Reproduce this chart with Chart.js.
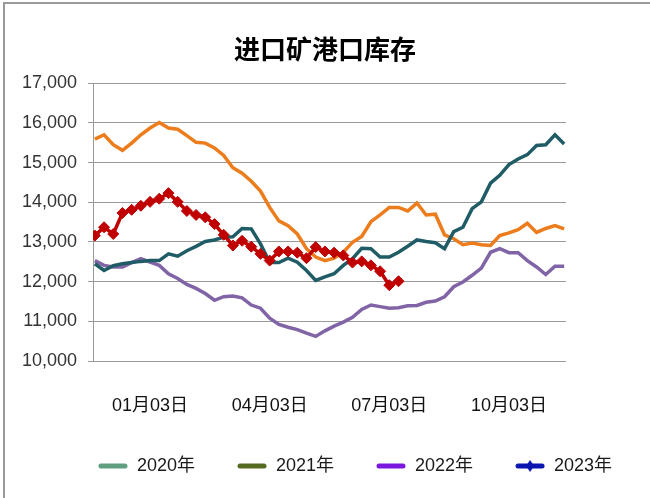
<html lang="zh">
<head>
  <meta charset="UTF-8" />
  <title>进口矿港口库存</title>
  <script src="https://cdn.jsdelivr.net/npm/chart.js"></script>
  <style>
    body { margin: 0; background: #fff; }
    #frame { position: absolute; left: 3px; top: 2px; width: 660px; height: 510px;
             border-top: 2px solid #9a9a9a; border-left: 2px solid #9a9a9a; }
    #c { position: absolute; left: 0; top: 0; }
  </style>
</head>
<body>
  <div id="frame"></div>
  <canvas id="c" width="650" height="498"></canvas>

  <script>
    // weekly port stock, index 0 = first week of the year
    const years = ['2020年', '2021年', '2022年', '2023年'];
    const s2020 = [12450, 12280, 12400, 12450, 12480, 12510, 12530, 12530, 12700, 12640, 12780, 12890, 13010,
      13050, 13120, 13130, 13340, 13330, 12950, 12480, 12480, 12590, 12490, 12280, 12030, 12120, 12200,
      12410, 12580, 12840, 12830, 12620, 12620, 12740, 12890, 13050, 13010, 12980, 12830, 13260, 13370,
      13840, 14010, 14480, 14680, 14950, 15090, 15200, 15430, 15450, 15700, 15470];
    const s2021 = [15590, 15700, 15450, 15310, 15490, 15700, 15870, 16010, 15870, 15840, 15680, 15510, 15490,
      15370, 15180, 14870, 14730, 14530, 14280, 13870, 13530, 13410, 13200, 12830, 12620, 12530, 12590,
      12740, 12990, 13140, 13510, 13680, 13870, 13870, 13780, 13980, 13680, 13700, 13180, 13080, 12930,
      12970, 12930, 12910, 13160, 13230, 13310, 13470, 13240, 13340, 13410, 13330];
    const s2022 = [12530, 12410, 12370, 12370, 12480, 12580, 12490, 12410, 12200, 12080, 11930, 11830, 11700,
      11530, 11620, 11640, 11590, 11410, 11330, 11080, 10920, 10850, 10790, 10700, 10620, 10760, 10880,
      10980, 11100, 11300, 11410, 11370, 11330, 11340, 11390, 11400, 11480, 11510, 11620, 11870, 11990,
      12160, 12340, 12740, 12830, 12730, 12730, 12530, 12370, 12180, 12390, 12390];
    const s2023 = [13160, 13370, 13200, 13730, 13810, 13910, 14010, 14090, 14230, 14010, 13780, 13680, 13620,
      13450, 13180, 12910, 13030, 12880, 12700, 12530, 12760, 12760, 12730, 12590, 12870, 12760, 12730,
      12660, 12480, 12510, 12410, 12260, 11910, 12010];

    const tickWeeks = [6, 19, 32, 45];
    const tickLabels = ['01月03日', '04月03日', '07月03日', '10月03日'];

    const lineColors = ['#1f5c66', '#ec7c1c', '#8064a6', '#c00000'];
    const legendColors = ['#5f9f80', '#566a22', '#7a18e0', '#0b16b0'];

    const pts = arr => arr.map((v, i) => ({ x: i, y: v }));

    function legendMark(color, diamond) {
      const c = document.createElement('canvas');
      c.width = 30; c.height = 12;
      const g = c.getContext('2d');
      g.strokeStyle = color; g.lineWidth = 5; g.lineCap = 'round';
      g.beginPath(); g.moveTo(3, 6); g.lineTo(27, 6); g.stroke();
      if (diamond) {
        g.fillStyle = color;
        g.beginPath(); g.moveTo(15, 0); g.lineTo(19, 6); g.lineTo(15, 12); g.lineTo(11, 6); g.closePath(); g.fill();
      }
      return c;
    }

    const font = { family: "'Liberation Sans', 'Noto Sans CJK SC', sans-serif", size: 18 };

    const legendShift = {
      id: 'legendShift',
      afterLayout(chart) { chart.legend.left += 30; chart.legend.right += 30; }
    };

    new Chart(document.getElementById('c'), {
      type: 'line',
      data: {
        datasets: [
          { label: years[0], data: pts(s2020), borderColor: lineColors[0], borderWidth: 3.5, pointRadius: 0, order: 1 },
          { label: years[1], data: pts(s2021), borderColor: lineColors[1], borderWidth: 3.5, pointRadius: 0, order: 2 },
          { label: years[2], data: pts(s2022), borderColor: lineColors[2], borderWidth: 3.5, pointRadius: 0, order: 3 },
          { label: years[3], data: pts(s2023), borderColor: lineColors[3], borderWidth: 3.5,
            pointStyle: 'rectRot', pointRadius: 5.5, pointBackgroundColor: '#c00000', pointBorderColor: '#c00000',
            pointBorderWidth: 1, order: 0 }
        ]
      },
      options: {
        responsive: false,
        animation: false,
        devicePixelRatio: 1,
        layout: { padding: { left: 0, right: 0, top: 0, bottom: 13 } },
        scales: {
          x: {
            type: 'linear', min: -0.2, max: 51.2,
            afterBuildTicks: s => { s.ticks = tickWeeks.map(v => ({ value: v })); },
            afterFit: s => { s.height = 54; },
            ticks: { callback: (v, i) => tickLabels[i], autoSkip: false, maxRotation: 0, padding: 34,
                     color: '#111', font },
            grid: { display: false, drawTicks: false },
            border: { display: false }
          },
          y: {
            min: 10000, max: 17000,
            afterFit: s => { s.width = 93; },
            ticks: { stepSize: 1000, padding: 11, color: '#333', font,
                     callback: v => v.toLocaleString('en-US') },
            grid: { color: '#9a9a9a', tickLength: 5 },
            border: { display: true, color: '#9a9a9a' }
          },
          y2: {
            position: 'right', display: true,
            afterFit: s => { s.width = 84; },
            ticks: { display: false }, grid: { display: false }, border: { display: false }
          }
        },
        plugins: {
          title: {
            display: true, text: '进口矿港口库存', color: '#000',
            font: { family: "'Noto Sans CJK SC', sans-serif", size: 26, weight: 'bold' },
            padding: { top: 34, bottom: 18 }
          },
          legend: {
            position: 'bottom',
            labels: {
              usePointStyle: true, pointStyleWidth: 30, padding: 42, color: '#1a1a1a', font,
              generateLabels: chart => years.map((y, i) => ({
                text: y, datasetIndex: i, hidden: false,
                pointStyle: legendMark(legendColors[i], i === 3),
                fillStyle: legendColors[i], strokeStyle: legendColors[i], lineWidth: 0, fontColor: '#1a1a1a'
              }))
            }
          },
          tooltip: { enabled: false }
        }
      },
      plugins: [legendShift]
    });
  </script>
</body>
</html>
